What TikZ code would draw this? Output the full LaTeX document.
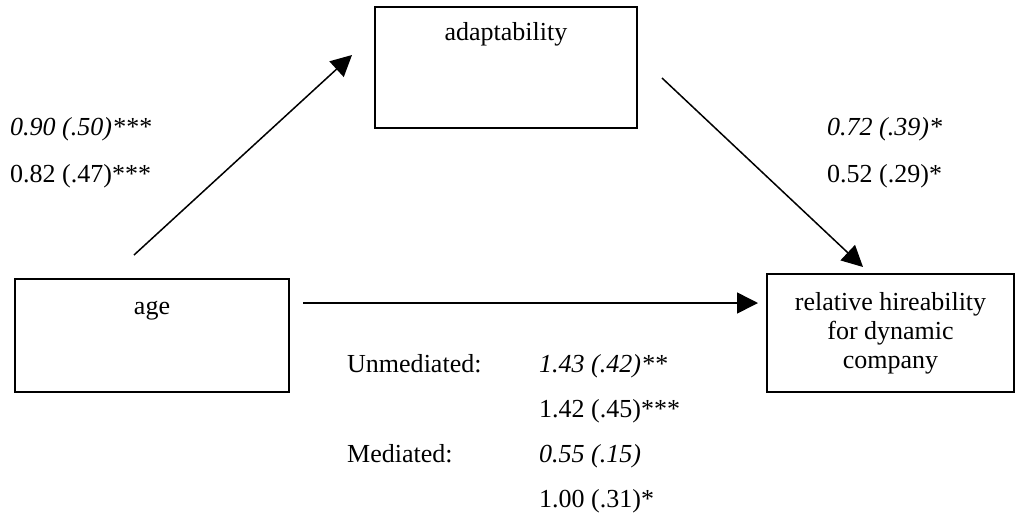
\documentclass[tikz,border=0pt]{standalone}
\usepackage{fontspec}
\setmainfont{Liberation Serif}
\usetikzlibrary{arrows.meta}
\begin{document}
\begin{tikzpicture}[x=1pt,y=-1pt,
    box/.style={draw,line width=1.5pt,inner sep=0pt},
    txt/.style={inner sep=0pt,anchor=base,align=center,font=\fontsize{26}{29}\selectfont},
    lbl/.style={inner sep=0pt,anchor=base west,font=\fontsize{26}{29}\selectfont},
    ital/.style={lbl,font=\fontsize{26}{29}\selectfont\itshape},
    arr/.style={line width=1.5pt,-{Triangle[length=21pt,width=21pt]}}]
  \useasboundingbox (0,0) rectangle (1016,515);
  \draw
    (152,335.5) node[box,minimum width=274pt,minimum height=113pt] (age){}
    (506,67.5) node[box,minimum width=262pt,minimum height=121pt] (adapt){}
    (890.5,333) node[box,minimum width=247pt,minimum height=118pt] (hire){};
  \node[txt] (agetxt) at (152,314) {age};
  \node[txt] (adapttxt) at (506,40) {adaptability};
  \node[txt] (hiretxt) at (890.5,368) {relative hireability\\for dynamic\\company};
  \coordinate (a0) at (134,255);
  \coordinate (a1) at (352,55);
  \coordinate (b0) at (662,78);
  \coordinate (b1) at (863,267);
  \coordinate (c0) at (303,303);
  \coordinate (c1) at (758,303);
  \begin{scope}[arr]
    \draw (a0) to (a1);
    \draw (b0) to (b1);
    \draw (c0) to (c1);
  \end{scope}
  \node[ital] (ab1) at (10,135) {0.90 (.50)***};
  \node[lbl] (ab2) at (10,182) {0.82 (.47)***};
  \node[ital] (bc1) at (827,135) {0.72 (.39)*};
  \node[lbl] (bc2) at (827,182) {0.52 (.29)*};
  \node[lbl] (unmed) at (347,372) {Unmediated:};
  \node[ital] (ac1) at (539,372) {1.43 (.42)**};
  \node[lbl] (ac2) at (539,417) {1.42 (.45)***};
  \node[lbl] (med) at (347,462) {Mediated:};
  \node[ital] (ac3) at (539,462) {0.55 (.15)};
  \node[lbl] (ac4) at (539,507) {1.00 (.31)*};
\end{tikzpicture}
\end{document}
